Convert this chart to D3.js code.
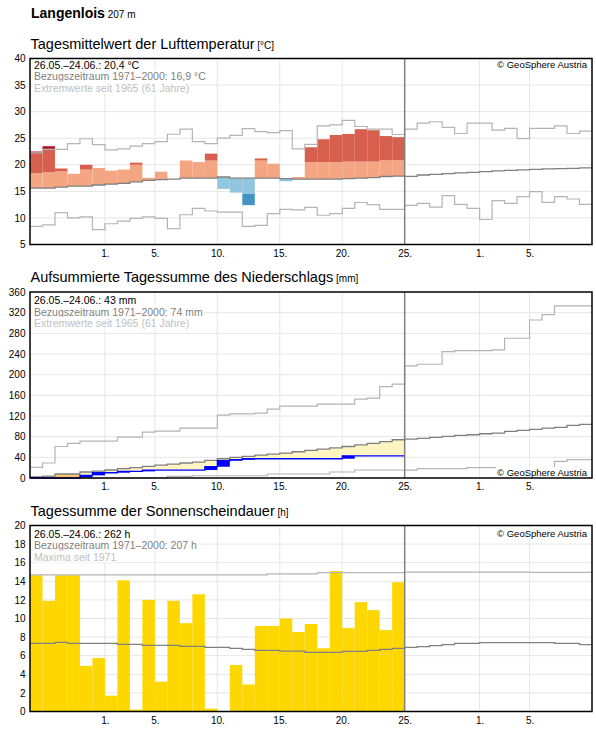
<!DOCTYPE html>
<html>
<head>
<meta charset="utf-8">
<script src="https://cdn.jsdelivr.net/npm/d3@7"></script>
<style>
  body { margin: 0; background: #fff; }
  svg { display: block; font-family: "Liberation Sans", Arial, sans-serif; }
</style>
</head>
<body>
<svg width="596" height="729"></svg>
<script>
// 26.05. bis 09.07. (45 Tage); Messwerte nur bis 24.06. (30 Tage)
const startTag = new Date(2025, 4, 26);
const xTickDaten = [[2025, 5, 1], [2025, 5, 5], [2025, 5, 10], [2025, 5, 15], [2025, 5, 20], [2025, 5, 25], [2025, 6, 1], [2025, 6, 5]];

// Lufttemperatur (°C)
const tempIst = [22.5, 23.5, 19.3, 18.3, 20.0, 19.4, 18.9, 19.1, 20.4, 17.55, 18.7, 17.3, 20.8, 20.5, 22.1,
  15.46, 14.76, 12.4, 21.2, 20.2, 16.9, 17.7, 23.3, 24.8, 25.6, 25.8, 26.7, 26.5, 25.4, 25.2];
const tempWarm = [18.4, 18.57, 18.76, 18.95, 19.1, 19.4, 19.6, 19.8, 20.0, 20.2, 20.4, 20.5, 20.8, 20.8, 20.8,
  20.9, 20.8, 20.8, 20.8, 20.7, 20.6, 20.5, 20.5, 20.5, 20.5, 20.6, 20.6, 20.6, 20.85, 20.85];
const tempKalt = [12.6, 12.6, 12.8, 13.0, 13.0, 13.2, 13.35, 13.5, 13.8, 14.05, 14.2, 14.3, 14.5, 14.5, 14.5,
  14.7, 14.5, 14.5, 14.5, 14.5, 14.4, 14.3, 14.3, 14.3, 14.3, 14.4, 14.5, 14.6, 14.8, 14.9];
const tempKlima = [15.6, 15.6, 15.8, 16.0, 16.0, 16.2, 16.35, 16.5, 16.8, 17.05, 17.2, 17.3, 17.5, 17.5, 17.5,
  17.7, 17.5, 17.5, 17.5, 17.5, 17.4, 17.3, 17.3, 17.3, 17.3, 17.4, 17.5, 17.6, 17.8, 17.87,
  17.81, 18.08, 18.19, 18.32, 18.46, 18.57, 18.7, 18.84, 18.95, 19.03, 19.14, 19.22, 19.28, 19.33, 19.41];
const tempMax = [22.25, 22.9, 22.9, 24.0, 24.9, 23.8, 22.8, 23.0, 23.5, 24.0, 24.35, 25.75, 26.7, 24.35, 24.0,
  25.0, 25.55, 26.8, 26.25, 26.06, 26.44, 23.0, 23.84, 27.33, 27.5, 28.35, 27.2, 26.7, 26.7, 25.7,
  26.7, 27.85, 28.1, 27.03, 25.89, 27.85, 27.85, 26.51, 26.84, 24.93, 26.84, 26.84, 27.33, 25.89, 26.32];
const tempMin = [8.4, 8.7, 11.0, 10.0, 10.2, 7.8, 8.9, 9.4, 9.9, 10.2, 9.9, 8.0, 10.6, 11.8, 11.3,
  11.1, 11.1, 8.4, 8.6, 10.8, 11.6, 11.5, 12.0, 10.5, 10.8, 11.8, 12.9, 12.5, 11.6, 11.6,
  12.36, 12.74, 12.04, 14.19, 12.55, 11.79, 9.7, 13.24, 12.74, 14.0, 14.95, 12.93, 14.0, 13.56, 12.55];

// Niederschlag, aufsummiert (mm)
const nsIst = [0, 0, 0, 0, 5.1, 10.2, 10.2, 12.8, 12.8, 15.4, 15.4, 15.4, 15.4, 15.4, 21.8,
  33.4, 35.4, 37.3, 37.3, 37.3, 37.3, 37.3, 37.3, 37.3, 37.3, 43, 43, 43, 43, 43];
const nsKlima = [2, 3.5, 7.7, 7.7, 11.6, 13.5, 15.5, 18.0, 19.9, 22.5, 25.0, 27.0, 29.0, 30.9, 34.0,
  37.3, 39.9, 41.8, 44.4, 46.4, 48.3, 50.8, 53.5, 56, 58.5, 61, 64, 67, 70.5, 74,
  75.3, 76.6, 78.5, 80.4, 82.4, 83.7, 85.6, 86.9, 90.1, 92.0, 94.0, 96.6, 97.8, 101.7, 103.6];
const nsMax = [20.5, 29, 61, 67, 71.5, 71.5, 71.5, 79.2, 79.2, 88.8, 90.7, 90.7, 96.5, 96.5, 96.5,
  121.7, 124.2, 124.2, 125.5, 133.3, 139, 139, 139, 143, 143, 143, 152.6, 154.5, 177, 181.6,
  217, 220.2, 220.2, 244.6, 246.5, 246.5, 246.5, 247.8, 270.5, 270.5, 305.8, 316.1, 333, 333, 333];
const nsMin = [0, 0, 0, 0, 0, 0, 0, 0, 0, 0, 0, 3.2, 3.2, 4.4, 4.4,
  4.4, 4.4, 4.4, 4.4, 7.7, 7.7, 7.7, 7.7, 7.7, 11.6, 11.6, 15.5, 15.5, 15.5, 15.5,
  15.4, 18, 18, 18, 18, 19.9, 19.9, 19.9, 19.9, 19.9, 19.9, 19.9, 32.1, 35.4, 35.4];

// Sonnenscheindauer (h)
const sonneIst = [14.65, 11.9, 14.65, 14.65, 4.9, 5.75, 1.7, 14.1, 0.2, 12.0, 3.2, 11.9, 9.5, 12.6, 0.3,
  0, 5.0, 2.9, 9.2, 9.2, 10.0, 8.55, 9.4, 6.8, 15.1, 8.97, 11.76, 10.9, 8.75, 13.9];
const sonneKlima = [7.33, 7.33, 7.43, 7.33, 7.33, 7.33, 7.33, 7.22, 7.22, 7.11, 7.11, 7.11, 7.0, 7.0, 6.9,
  6.9, 6.79, 6.68, 6.58, 6.58, 6.5, 6.5, 6.36, 6.36, 6.36, 6.47, 6.47, 6.58, 6.68, 6.79,
  6.9, 6.97, 7.08, 7.19, 7.33, 7.33, 7.4, 7.4, 7.4, 7.4, 7.4, 7.4, 7.33, 7.33, 7.2];
const sonneMax = [14.7, 14.7, 14.7, 14.7, 14.7, 14.7, 14.7, 14.7, 14.7, 14.7, 14.7, 14.7, 14.7, 14.7, 14.7,
  14.7, 14.7, 14.7, 14.7, 14.8, 14.8, 14.8, 14.8, 14.94, 14.94, 14.94, 14.94, 14.94, 14.94, 14.94,
  14.98, 14.98, 14.98, 14.98, 14.98, 14.98, 14.98, 14.98, 14.98, 14.98, 14.95, 14.95, 14.95, 14.95, 14.95];

const tempTicks = [5, 10, 15, 20, 25, 30, 35, 40];
const nsTicks = [0, 40, 80, 120, 160, 200, 240, 280, 320, 360];
const sonneTicks = [0, 2, 4, 6, 8, 10, 12, 14, 16, 18, 20];

const legTemp = ["26.05.–24.06.: 20,4 °C", "Bezugszeitraum 1971–2000: 16,9 °C", "Extremwerte seit 1965 (61 Jahre)"];
const legNs = ["26.05.–24.06.: 43 mm", "Bezugszeitraum 1971–2000: 74 mm", "Extremwerte seit 1965 (61 Jahre)"];
const legSonne = ["26.05.–24.06.: 262 h", "Bezugszeitraum 1971–2000: 207 h", "Maxima seit 1971"];

const svg = d3.select("svg");
const tage = d3.range(46).map(i => d3.timeDay.offset(startTag, i));
const xTicks = xTickDaten.map(d => new Date(d[0], d[1], d[2]));
const heute = new Date(2025, 5, 25);

const x = d3.scaleTime().domain([tage[0], tage[45]]).range([30, 592]);
const H = 186;

svg.append("rect").attr("width", 596).attr("height", 729).attr("fill", "#fff");

svg.append("text").attr("x", 31).attr("y", 18)
  .attr("font-size", 14).attr("font-weight", "bold").text("Langenlois")
  .append("tspan").attr("font-size", 10).attr("font-weight", "normal").text(" 207 m");

function panel(top, domain, ticks, title, unit) {
  const y = d3.scaleLinear().domain(domain).range([top + H, top]);
  const g = svg.append("g");
  g.append("text").attr("x", 30.5).attr("y", top - 10)
    .attr("font-size", 14.5).text(title)
    .append("tspan").attr("font-size", 10).text(" " + unit);
  // grid
  g.selectAll(".hg").data(ticks.slice(1, -1)).enter().append("line")
    .attr("x1", 30).attr("x2", 592)
    .attr("y1", d => y(d)).attr("y2", d => y(d))
    .attr("stroke", "#e6e6e6");
  g.selectAll(".vg").data(xTicks.filter(d => +d !== +heute)).enter().append("line")
    .attr("x1", d => x(d)).attr("x2", d => x(d))
    .attr("y1", top).attr("y2", top + H)
    .attr("stroke", "#e6e6e6");
  // axes
  const ay = g.append("g").attr("transform", "translate(30,0)")
    .call(d3.axisLeft(y).tickValues(ticks).tickSize(0).tickPadding(4.5));
  const ax = g.append("g").attr("transform", `translate(0,${top + H})`)
    .call(d3.axisBottom(x).tickValues(xTicks).tickFormat(d3.timeFormat("%-d.")).tickSize(0).tickPadding(5));
  [ay, ax].forEach(a => {
    a.select(".domain").remove();
    a.selectAll("text").attr("font-size", 10).attr("fill", "#000").attr("font-family", null);
  });
  return { g, y, top };
}

function stufe(y, werte) {
  const pts = werte.map((v, i) => [x(tage[i]), y(v)]);
  pts.push([x(tage[werte.length]), y(werte[werte.length - 1])]);
  return d3.line().curve(d3.curveStepAfter)(pts);
}

function linie(p, werte, farbe, breite) {
  p.g.append("path").attr("d", stufe(p.y, werte))
    .attr("fill", "none").attr("stroke", farbe).attr("stroke-width", breite);
}

function rahmen(p, legende, copyY) {
  p.g.append("line").attr("x1", x(heute)).attr("x2", x(heute))
    .attr("y1", p.top).attr("y2", p.top + H).attr("stroke", "#808080").attr("stroke-width", 1.5);
  const farben = ["#000", "#808080", "#c0c0c0"];
  legende.off.forEach((t, i) => {});
  legende.text.forEach((t, i) => {
    const tx = p.g.append("text").attr("x", 34).attr("y", p.top + legende.dy + i * 11.5)
      .attr("font-size", 10.5).attr("fill", farben[i]).text(t);
    const b = tx.node().getBBox();
    p.g.insert("rect", () => tx.node()).attr("x", b.x - 1).attr("y", b.y)
      .attr("width", b.width + 2).attr("height", b.height).attr("fill", "#fff");
  });
  const c = p.g.append("text").attr("x", 587).attr("y", copyY)
    .attr("text-anchor", "end").attr("font-size", 9.5).text("© GeoSphere Austria");
  const cb = c.node().getBBox();
  p.g.insert("rect", () => c.node()).attr("x", cb.x - 1).attr("y", cb.y)
    .attr("width", cb.width + 2).attr("height", cb.height).attr("fill", "#fff");
  p.g.append("rect").attr("x", 30).attr("y", p.top).attr("width", 562).attr("height", H)
    .attr("fill", "none").attr("stroke", "#000").attr("stroke-width", 1.5);
}

// ---------- Temperatur ----------
const pT = panel(58.5, [5, 40], tempTicks, "Tagesmittelwert der Lufttemperatur", "[°C]");
const segT = [];
tempIst.forEach((v, i) => {
  const c = tempKlima[i], w = tempWarm[i], k = tempKalt[i], hi = tempMax[i], lo = tempMin[i];
  if (v >= c) {
    segT.push({ i, a: c, b: Math.min(v, w), f: "#f4a582" });
    if (v > w) segT.push({ i, a: w, b: Math.min(v, Math.max(hi, w)), f: "#d6604d" });
    if (v > Math.max(w, hi)) segT.push({ i, a: Math.max(w, hi), b: v, f: "#b2182b" });
  } else {
    segT.push({ i, a: Math.max(v, k), b: c, f: "#92c5de" });
    if (v < k) segT.push({ i, a: Math.max(v, lo), b: k, f: "#4393c3" });
    if (v < lo) segT.push({ i, a: v, b: lo, f: "#2166ac" });
  }
});
pT.g.selectAll(".bar").data(segT.filter(s => s.b > s.a)).enter().append("rect")
  .attr("x", s => x(tage[s.i])).attr("width", s => x(tage[s.i + 1]) - x(tage[s.i]))
  .attr("y", s => pT.y(s.b)).attr("height", s => pT.y(s.a) - pT.y(s.b))
  .attr("fill", s => s.f);
linie(pT, tempMax, "#b4b4b4", 1.2);
linie(pT, tempMin, "#b4b4b4", 1.2);
linie(pT, tempKlima, "#808080", 1.3);
rahmen(pT, { text: legTemp, dy: 10, off: [] }, 68);

// ---------- Niederschlag ----------
const pN = panel(292, [0, 360], nsTicks, "Aufsummierte Tagessumme des Niederschlags", "[mm]");
pN.g.selectAll(".fill").data(nsIst).enter().append("rect")
  .attr("x", (v, i) => x(tage[i])).attr("width", (v, i) => x(tage[i + 1]) - x(tage[i]))
  .attr("y", (v, i) => pN.y(Math.max(v, nsKlima[i])))
  .attr("height", (v, i) => Math.abs(pN.y(v) - pN.y(nsKlima[i])))
  .attr("fill", (v, i) => v < nsKlima[i] ? (v / nsKlima[i] < 0.25 ? "#fbc56e" : "#fff5c2") : "#c7e9c0");
pN.g.selectAll(".inc").data(nsIst).enter().append("rect")
  .attr("x", (v, i) => x(tage[i])).attr("width", (v, i) => x(tage[i + 1]) - x(tage[i]))
  .attr("y", v => pN.y(v))
  .attr("height", (v, i) => pN.y(i ? nsIst[i - 1] : 0) - pN.y(v))
  .attr("fill", "#0000ff");
linie(pN, nsMax, "#b4b4b4", 1.2);
linie(pN, nsMin, "#b4b4b4", 1.2);
linie(pN, nsKlima, "#808080", 1.3);
linie(pN, nsIst, "#0000ff", 1.3);
rahmen(pN, { text: legNs, dy: 12, off: [] }, 476);

// ---------- Sonnenschein ----------
const pS = panel(525.5, [0, 20], sonneTicks, "Tagessumme der Sonnenscheindauer", "[h]");
pS.g.selectAll(".bar").data(sonneIst).enter().append("rect")
  .attr("x", (v, i) => x(tage[i])).attr("width", (v, i) => x(tage[i + 1]) - x(tage[i]))
  .attr("y", v => pS.y(v)).attr("height", v => pS.y(0) - pS.y(v))
  .attr("fill", "#ffd700");
linie(pS, sonneMax, "#b4b4b4", 1.2);
linie(pS, sonneKlima, "#808080", 1.3);
rahmen(pS, { text: legSonne, dy: 12, off: [] }, 537);
</script>
</body>
</html>
